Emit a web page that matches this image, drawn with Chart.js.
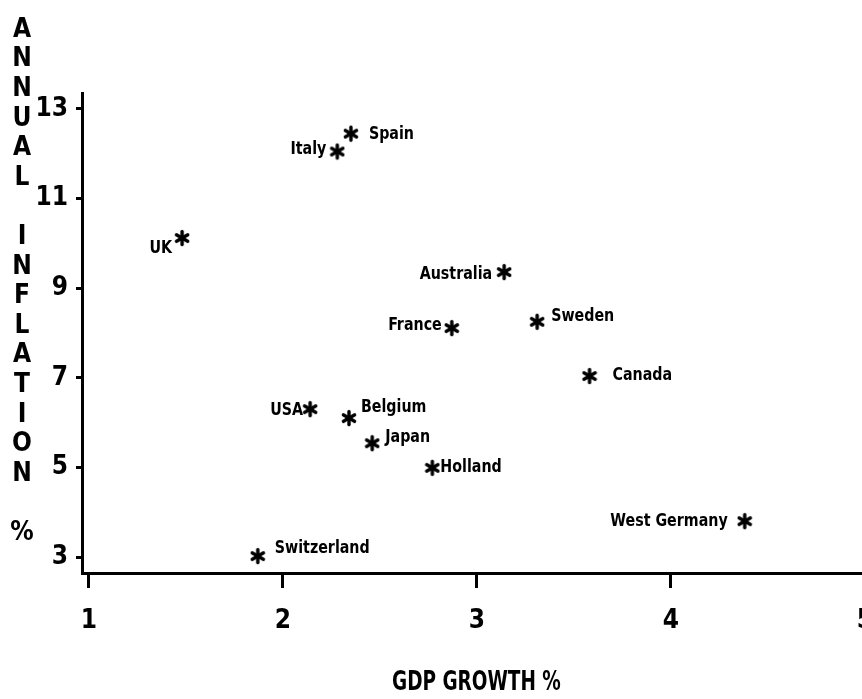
<!DOCTYPE html>
<html lang="en">
<head>
    <meta charset="UTF-8">
    <title>Annual inflation vs GDP growth</title>
    <script src="https://cdn.jsdelivr.net/npm/chart.js@4.4.0/dist/chart.umd.min.js"></script>
    <style>
        html, body { margin: 0; padding: 0; overflow: hidden; background: #fff; }
    </style>
</head>
<body>
    <canvas id="graphique" width="880" height="699"></canvas>

    <script>
        // données
        const countries = ["Spain", "Italy", "UK", "Australia", "France", "Sweden", "Canada",
                           "USA", "Belgium", "Japan", "Holland", "West Germany", "Switzerland"];
        const gdpGrowth = [2.35, 2.28, 1.48, 3.14, 2.87, 3.31, 3.58, 2.14, 2.34, 2.46, 2.77, 4.38, 1.87];
        const inflation = [12.45, 12.05, 10.12, 9.36, 8.11, 8.25, 7.04, 6.30, 6.10, 5.54, 4.99, 3.80, 3.02];
        const xTicks = [1, 2, 3, 4, 5];
        const yTicks = [3, 5, 7, 9, 11, 13];
        const xTitle = "GDP GROWTH %";
        const yTitle = "ANNUAL INFLATION %";

        // placement des étiquettes (côté du point, écart et décalage vertical en px)
        const labelSide = ["right", "left", "left", "left", "left", "right", "right",
                           "left", "right", "right", "right", "left", "right"];
        const labelGap = [18, 11, 10, 12, 10, 14, 23, 7, 12, 13, 8, 17, 17];
        const labelDy = [1, -2, 10, 2, -3, -5, -1, 1, -11, -6, -1, 0, -8];

        const FONT = '"Liberation Sans Narrow", "DejaVu Sans Condensed", "Arial Narrow", sans-serif';

        // astérisque à 6 branches
        function asterisque() {
            const c = document.createElement("canvas");
            c.width = 16; c.height = 18;
            const g = c.getContext("2d");
            g.strokeStyle = "#000";
            g.lineWidth = 3.4;
            g.lineCap = "round";
            const cx = 8, cy = 9, r = 6.5;
            [90, 30, 150].forEach(a => {
                const rad = a * Math.PI / 180;
                g.beginPath();
                g.moveTo(cx - r * Math.cos(rad), cy - r * Math.sin(rad));
                g.lineTo(cx + r * Math.cos(rad), cy + r * Math.sin(rad));
                g.stroke();
            });
            return c;
        }

        // texte resserré horizontalement (police étroite)
        function texteEtroit(ctx, txt, x, y, sx) {
            ctx.save();
            ctx.translate(x, y);
            ctx.scale(sx, 1);
            ctx.fillText(txt, 0, 0);
            ctx.restore();
        }

        const textes = {
            id: "textes",
            afterDraw(chart) {
                const ctx = chart.ctx;
                const meta = chart.getDatasetMeta(0);
                ctx.save();
                ctx.fillStyle = "#000";
                ctx.textBaseline = "middle";

                // noms des pays
                ctx.font = "bold 18px " + FONT;
                meta.data.forEach((pt, i) => {
                    const right = labelSide[i] === "right";
                    ctx.textAlign = right ? "left" : "right";
                    texteEtroit(ctx, countries[i], pt.x + (right ? labelGap[i] : -labelGap[i]), pt.y + labelDy[i], 0.88);
                });

                // titre vertical, une lettre par ligne
                ctx.font = "bold 26px " + FONT;
                ctx.textAlign = "center";
                [...yTitle].forEach((c, i) => ctx.fillText(c, 22, 30 + i * 29.6));

                // titre horizontal
                ctx.font = "bold 27px " + FONT;
                ctx.textAlign = "left";
                texteEtroit(ctx, xTitle, 392, 683, 0.76);
                ctx.restore();
            }
        };

        const tickFont = { family: FONT, size: 26, weight: "bold" };

        const chart = new Chart(document.getElementById("graphique").getContext("2d"), {
            type: "scatter",
            data: {
                datasets: [{
                    label: "Countries",
                    data: gdpGrowth.map((v, i) => ({ x: v, y: inflation[i] })),
                    pointStyle: asterisque(),
                    showLine: false
                }]
            },
            options: {
                responsive: false,
                animation: false,
                layout: { padding: { top: 93, right: 15, left: 0, bottom: 0 } },
                plugins: {
                    legend: { display: false },
                    tooltip: { enabled: false }
                },
                scales: {
                    x: {
                        type: "linear",
                        min: 0.964,
                        max: 5,
                        afterBuildTicks: s => { s.ticks = xTicks.map(v => ({ value: v })); },
                        afterFit: s => { s.height = 126; s.paddingLeft = 0; s.paddingRight = 0; },
                        border: { display: true, color: "#000", width: 3 },
                        grid: { display: true, drawOnChartArea: false, drawTicks: true,
                                tickLength: 15, tickWidth: 3, tickColor: "#000" },
                        ticks: { color: "#000", font: tickFont, padding: 18, maxRotation: 0 }
                    },
                    y: {
                        type: "linear",
                        min: 2.643,
                        max: 13.357,
                        afterBuildTicks: s => { s.ticks = yTicks.map(v => ({ value: v })); },
                        afterFit: s => { s.width = 82; },
                        border: { display: true, color: "#000", width: 3 },
                        grid: { display: true, drawOnChartArea: false, drawTicks: true,
                                tickLength: 6, tickWidth: 3, tickColor: "#000" },
                        ticks: { color: "#000", font: tickFont, padding: 8 }
                    }
                }
            },
            plugins: [textes]
        });
    </script>
</body>
</html>
